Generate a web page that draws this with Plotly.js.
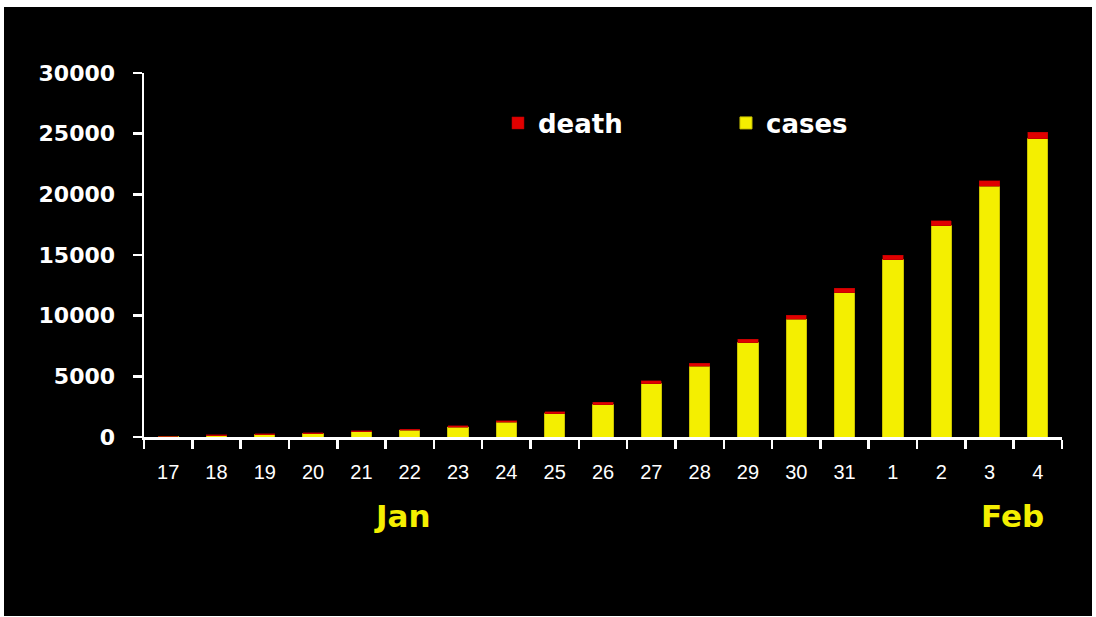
<!DOCTYPE html>
<html>
<head>
<meta charset="utf-8">
<script src="https://cdn.plot.ly/plotly-3.0.1.min.js"></script>
<style>
  html, body { margin: 0; padding: 0; background: #ffffff; width: 1096px; height: 617px; overflow: hidden; }
  #chart { position: absolute; left: 4px; top: 7px; width: 1088px; height: 609px; }
</style>
</head>
<body>
<div id="chart"></div>
<script>
// Day labels (Jan 17 – Feb 4)
const days = ["17","18","19","20","21","22","23","24","25","26","27","28","29","30","31","1","2","3","4"];
// Confirmed cases (yellow, bottom of stack)
const cases = [45, 120, 195, 285, 430, 560, 810, 1200, 1900, 2650, 4400, 5850, 7750, 9720, 11900, 14600, 17400, 20650, 24600];
// Deaths (red, top of stack)
const death = [2, 60, 60, 60, 70, 80, 100, 150, 180, 210, 220, 220, 290, 330, 350, 400, 430, 480, 500];
// Month labels
const monthLabels = ["Jan", "Feb"];
const yTicks = [0, 5000, 10000, 15000, 20000, 25000, 30000];

const traces = [
  {
    type: "bar", name: "cases", x: days, y: cases,
    marker: { color: "#f4ef00", line: { color: "#c9c200", width: 1 } }
  },
  {
    type: "bar", name: "death", x: days, y: death,
    marker: { color: "#e00000", line: { color: "#b00000", width: 0.5 } }
  }
];

const layout = {
  width: 1088, height: 609,
  paper_bgcolor: "#000000", plot_bgcolor: "#000000",
  margin: { l: 140, r: 30, t: 66, b: 179 },
  barmode: "stack",
  bargap: 0.58,
  showlegend: true,
  legend: {
    orientation: "h", traceorder: "reversed",
    x: 0.3856, xanchor: "left", y: 0.8626, yanchor: "middle",
    bgcolor: "rgba(0,0,0,0)",
    font: { family: "DejaVu Sans", size: 26, color: "#ffffff", weight: "bold" },
    entrywidth: 183, entrywidthmode: "pixels"
  },
  xaxis: {
    type: "category",
    showline: true, linecolor: "#ffffff", linewidth: 2.5,
    ticks: "outside", tickson: "boundaries", ticklen: 9, tickwidth: 2.5, tickcolor: "#ffffff",
    tickfont: { family: "Liberation Sans", size: 20, color: "#ffffff" },
    ticklabelstandoff: 15,
    showgrid: false, zeroline: false, fixedrange: true
  },
  yaxis: {
    range: [0, 30000],
    tickvals: yTicks,
    ticktext: yTicks.map(String),
    showline: true, linecolor: "#ffffff", linewidth: 2.5,
    ticks: "outside", ticklen: 9, tickwidth: 2.5, tickcolor: "#ffffff",
    tickfont: { family: "DejaVu Sans", size: 22, color: "#ffffff", weight: "bold" },
    ticklabelstandoff: 13,
    showgrid: false, zeroline: false, fixedrange: true
  },
  annotations: [
    { text: monthLabels[0], xref: "paper", yref: "paper", x: 0.2821, y: -0.217,
      xanchor: "center", yanchor: "middle", showarrow: false,
      font: { family: "DejaVu Sans", size: 31, color: "#f4ef00", weight: "bold" } },
    { text: monthLabels[1], xref: "paper", yref: "paper", x: 0.9466, y: -0.217,
      xanchor: "center", yanchor: "middle", showarrow: false,
      font: { family: "DejaVu Sans", size: 31, color: "#f4ef00", weight: "bold" } }
  ]
};

Plotly.newPlot("chart", traces, layout, { displayModeBar: false, staticPlot: true });
</script>
</body>
</html>
